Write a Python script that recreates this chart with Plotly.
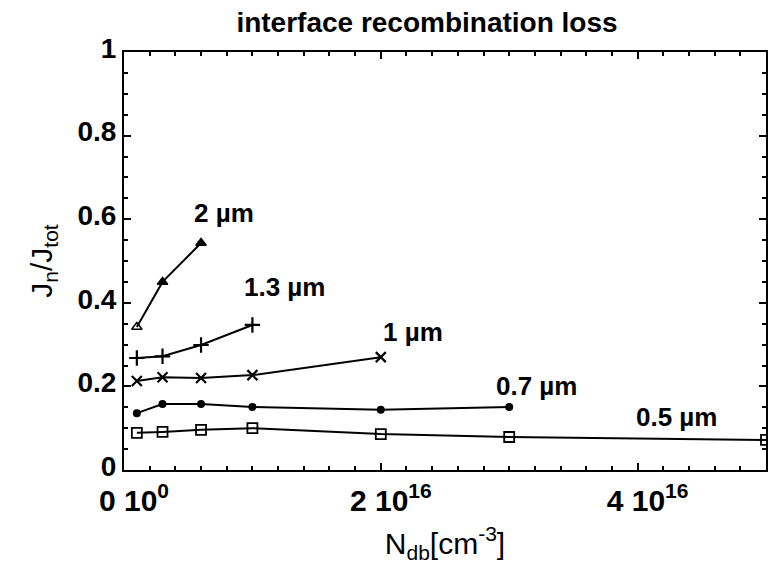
import plotly.graph_objects as go

# Data (x in cm^-3, y = Jn/Jtot)
x_2um = [0.1e16, 0.3e16, 0.6e16]
y_2um = [0.342, 0.45, 0.543]

x_13um = [0.1e16, 0.3e16, 0.6e16, 1.0e16]
y_13um = [0.268, 0.272, 0.299, 0.347]

x_1um = [0.1e16, 0.3e16, 0.6e16, 1.0e16, 2.0e16]
y_1um = [0.213, 0.222, 0.220, 0.227, 0.270]

x_07um = [0.1e16, 0.3e16, 0.6e16, 1.0e16, 2.0e16, 3.0e16]
y_07um = [0.136, 0.158, 0.158, 0.151, 0.144, 0.151]

x_05um = [0.1e16, 0.3e16, 0.6e16, 1.0e16, 2.0e16, 3.0e16, 5.0e16]
y_05um = [0.089, 0.091, 0.096, 0.100, 0.086, 0.079, 0.072]

x_tickvals = [0, 2e16, 4e16]
x_ticktext = ["<b>0 10<sup>0</sup></b>", "<b>2 10<sup>16</sup></b>", "<b>4 10<sup>16</sup></b>"]
y_tickvals = [0, 0.2, 0.4, 0.6, 0.8, 1]
y_ticktext = ["<b>0</b>", "<b>0.2</b>", "<b>0.4</b>", "<b>0.6</b>", "<b>0.8</b>", "<b>1</b>"]

labels = ["2 µm", "1.3 µm", "1 µm", "0.7 µm", "0.5 µm"]
label_x = [0.78e16, 1.25e16, 2.25e16, 3.21e16, 4.30e16]
label_y = [0.615, 0.438, 0.33, 0.20, 0.127]

FONT = "Liberation Sans, Arial, sans-serif"

fig = go.Figure()
line = dict(color="black", width=2)

fig.add_trace(go.Scatter(x=x_2um, y=y_2um, mode="lines+markers", line=line,
                         marker=dict(symbol=["triangle-up-open", "triangle-up", "triangle-up"],
                                     size=9, color="black", line=dict(color="black", width=1.5)),
                         showlegend=False))
fig.add_trace(go.Scatter(x=x_13um, y=y_13um, mode="lines+markers", line=line,
                         marker=dict(symbol="cross-thin", size=11, color="black",
                                     line=dict(color="black", width=2.2)),
                         showlegend=False))
fig.add_trace(go.Scatter(x=x_1um, y=y_1um, mode="lines+markers", line=line,
                         marker=dict(symbol="x-thin", size=10, color="black",
                                     line=dict(color="black", width=2.2)),
                         showlegend=False))
fig.add_trace(go.Scatter(x=x_07um, y=y_07um, mode="lines+markers", line=line,
                         marker=dict(symbol="circle", size=8, color="black"),
                         showlegend=False))
fig.add_trace(go.Scatter(x=x_05um, y=y_05um, mode="lines+markers", line=line,
                         marker=dict(symbol="square-open", size=10, color="black",
                                     line=dict(color="black", width=1.8)),
                         showlegend=False))

for t, lx, ly in zip(labels, label_x, label_y):
    fig.add_annotation(x=lx, y=ly, text="<b>" + t + "</b>", showarrow=False,
                       font=dict(family=FONT, size=26, color="black"))

fig.update_layout(
    width=778, height=573,
    margin=dict(l=124, r=10, t=52, b=103),
    plot_bgcolor="white", paper_bgcolor="white",
    font=dict(family=FONT, color="black"),
    title=dict(text="<b>interface recombination loss</b>", x=427 / 778, xanchor="center",
               xref="container",
               y=1 - 22 / 573, yanchor="middle", font=dict(size=28, color="black")),
    showlegend=False,
)

fig.update_xaxes(range=[0, 5e16], showgrid=False, zeroline=False,
                 showline=True, linecolor="black", linewidth=2, mirror="ticks",
                 ticks="inside", ticklen=7, tickwidth=2, tickcolor="black",
                 tickvals=x_tickvals, ticktext=x_ticktext, ticklabelshift=10,
                 ticklabelstandoff=3,
                 tickfont=dict(size=30, color="black"),
                 minor=dict(dtick=0.2e16, ticks="inside", ticklen=4, tickcolor="black", tickwidth=1.5),
                 title=dict(text="N<sub>db</sub>[cm<sup>-3</sup>]", font=dict(size=30, color="black"), standoff=17))
fig.update_yaxes(range=[0, 1], showgrid=False, zeroline=False,
                 showline=True, linecolor="black", linewidth=2, mirror="ticks",
                 ticks="inside", ticklen=7, tickwidth=2, tickcolor="black",
                 tickvals=y_tickvals, ticktext=y_ticktext, ticklabelshift=-4,
                 tickfont=dict(size=28, color="black"),
                 minor=dict(dtick=0.05, ticks="inside", ticklen=4, tickcolor="black", tickwidth=1.5),
                 title=dict(text="J<sub>n</sub>/J<sub>tot</sub>", font=dict(size=30, color="black"), standoff=16))

fig.write_html("out.html")
